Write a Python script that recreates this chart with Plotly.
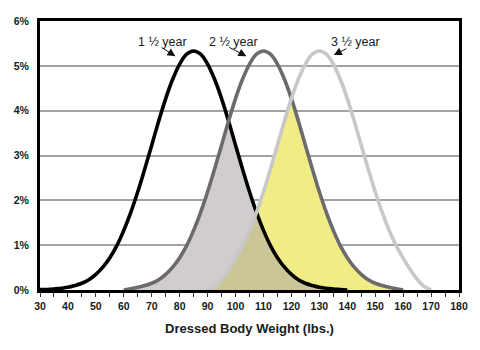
import plotly.graph_objects as go

# Dressed body weight (lbs.) sample points and share of animals (%) per age group
weights_15 = [30, 32.5, 35, 37.5, 40, 42.5, 45, 47.5, 50, 52.5, 55, 57.5, 60, 62.5, 65,
              67.5, 70, 72.5, 75, 77.5, 80, 82.5, 85, 87.5, 90, 92.5, 95, 97.5, 100,
              102.5, 105, 107.5, 110, 112.5, 115, 117.5, 120, 122.5, 125, 127.5, 130,
              132.5, 135, 137.5, 140]
pct_15 = [0.01, 0.01, 0.02, 0.04, 0.06, 0.10, 0.15, 0.23, 0.35, 0.51, 0.72, 0.99, 1.33,
          1.73, 2.19, 2.70, 3.23, 3.77, 4.27, 4.70, 5.04, 5.26, 5.33, 5.26, 5.04, 4.70,
          4.27, 3.77, 3.23, 2.70, 2.19, 1.73, 1.33, 0.99, 0.72, 0.51, 0.35, 0.23, 0.15,
          0.10, 0.06, 0.04, 0.02, 0.01, 0.0]

weights_25 = [60, 62.5, 65, 67.5, 70, 72.5, 75, 77.5, 80, 82.5, 85, 87.5, 90, 92.5, 95,
              97.5, 100, 102.5, 105, 107.5, 110, 112.5, 115, 117.5, 120, 122.5, 125,
              127.5, 130, 132.5, 135, 137.5, 140, 142.5, 145, 147.5, 150, 152.5, 155,
              157.5, 160]
pct_25 = [0.0, 0.03, 0.06, 0.10, 0.15, 0.23, 0.35, 0.51, 0.72, 0.99, 1.33, 1.73, 2.19,
          2.70, 3.23, 3.77, 4.27, 4.70, 5.04, 5.26, 5.33, 5.26, 5.04, 4.70, 4.27, 3.77,
          3.23, 2.70, 2.19, 1.73, 1.33, 0.99, 0.72, 0.51, 0.35, 0.23, 0.15, 0.10, 0.06,
          0.03, 0.0]

weights_35 = [90, 92.5, 95, 97.5, 100, 102.5, 105, 107.5, 110, 112.5, 115, 117.5, 120,
              122.5, 125, 127.5, 130, 132.5, 135, 137.5, 140, 142.5, 145, 147.5, 150,
              152.5, 155, 157.5, 160, 162.5, 165, 167.5, 170]
pct_35 = [0.01, 0.07, 0.24, 0.47, 0.72, 0.99, 1.33, 1.73, 2.19, 2.70, 3.23, 3.77, 4.27,
          4.70, 5.04, 5.26, 5.33, 5.26, 5.04, 4.70, 4.27, 3.77, 3.23, 2.70, 2.19, 1.73,
          1.33, 0.99, 0.71, 0.46, 0.24, 0.08, 0.0]

age_labels = ["1 \u00bd year", "2 \u00bd year", "3 \u00bd year"]
x_tick_values = list(range(30, 181, 10))
y_tick_values = [0, 1, 2, 3, 4, 5, 6]
y_tick_text = [f"{v}%" for v in y_tick_values]

FONT = "Liberation Sans, Arial, sans-serif"


def lookup(ws, ps):
    return dict(zip(ws, ps))


def overlap(*curves):
    """Area shared by several curves: pointwise minimum on the common grid."""
    tables = [lookup(w, p) for w, p in curves]
    lo = max(min(w) for w, _ in curves)
    hi = min(max(w) for w, _ in curves)
    xs = sorted({x for w, _ in curves for x in w if lo <= x <= hi})
    ys = [min(t.get(x, 0.0) for t in tables) for x in xs]
    return xs, ys


c15 = (weights_15, pct_15)
c25 = (weights_25, pct_25)
c35 = (weights_35, pct_35)

fig = go.Figure()

# shaded overlaps
for curves, color in [((c15, c25), "#d1cccd"),
                      ((c25, c35), "#f1ec86"),
                      ((c15, c25, c35), "#cbc697")]:
    xs, ys = overlap(*curves)
    fig.add_trace(go.Scatter(x=[xs[0]] + xs + [xs[-1]], y=[0] + ys + [0],
                             mode="lines", line=dict(width=0), fill="toself",
                             fillcolor=color, hoverinfo="skip", showlegend=False))

# distribution curves
for (w, p), color, name in [(c15, "#000000", age_labels[0]),
                            (c25, "#6b6b6b", age_labels[1]),
                            (c35, "#c8c8c8", age_labels[2])]:
    fig.add_trace(go.Scatter(x=w, y=p, mode="lines", name=name,
                             line=dict(color=color, width=3.6, shape="spline"),
                             showlegend=False))

# curve labels with pointer arrows
label_pos = [(74.0, 5.53), (99.4, 5.53), (143.1, 5.53)]
arrow_tail = [(73.0, 5.43), (97.2, 5.43), (140.2, 5.40)]
arrow_head = [(78.5, 5.215), (103.9, 5.215), (135.2, 5.24)]
for text, (tx, ty), (ax, ay), (hx, hy) in zip(age_labels, label_pos, arrow_tail, arrow_head):
    fig.add_annotation(x=tx, y=ty, text=text, showarrow=False,
                       font=dict(family=FONT, size=12.5, color="#1a1a1a"))
    fig.add_annotation(x=hx, y=hy, ax=ax, ay=ay, axref="x", ayref="y", text="",
                       showarrow=True, arrowhead=2, arrowsize=1.6, arrowwidth=1,
                       arrowcolor="#111111", standoff=0, startstandoff=0)

fig.update_layout(
    width=480, height=350,
    margin=dict(l=40, r=17, t=21, b=60),
    paper_bgcolor="white", plot_bgcolor="white",
    font=dict(family=FONT, color="#1a1a1a"),
    xaxis=dict(
        range=[30, 180], tickvals=x_tick_values,
        ticks="outside", ticklen=4, tickwidth=1, tickcolor="#333333",
        minor=dict(ticks="outside", dtick=5, ticklen=4, tickwidth=1, tickcolor="#333333"),
        showgrid=False, zeroline=False,
        showline=True, linewidth=3, linecolor="#000000", mirror=True,
        tickfont=dict(family=FONT, size=10.5, weight="bold", color="#1a1a1a"),
        title=dict(text="Dressed Body Weight (lbs.)", standoff=14,
                   font=dict(family=FONT, size=13, weight="bold", color="#1a1a1a")),
    ),
    yaxis=dict(
        range=[0, 6], tickvals=y_tick_values, ticktext=y_tick_text,
        ticks="", showgrid=True, gridcolor="#a3a3a3", gridwidth=1.5,
        zeroline=False, showline=True, linewidth=3, linecolor="#000000", mirror=True,
        tickfont=dict(family=FONT, size=10.5, weight="bold", color="#1a1a1a"),
        ticklabelstandoff=6,
    ),
)

fig.write_html("out.html")
